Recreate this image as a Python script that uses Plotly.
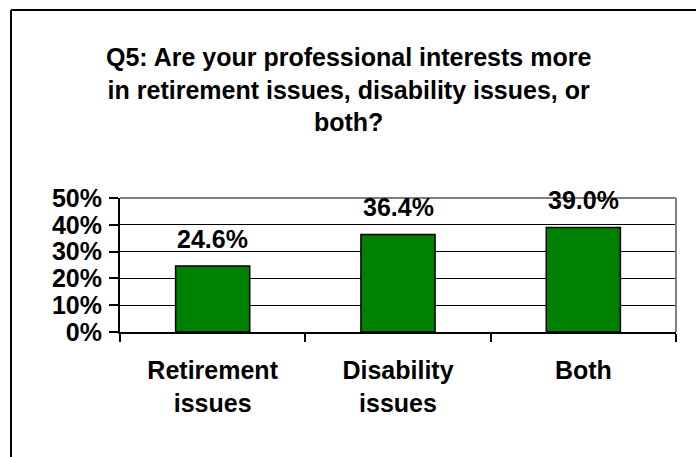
import plotly.graph_objects as go

# Survey responses for Q5
categories = ["Retirement<br>issues", "Disability<br>issues", "Both"]
shares = [0.246, 0.364, 0.390]
y_ticks = [0.0, 0.1, 0.2, 0.3, 0.4, 0.5]
y_tick_labels = ["0%", "10%", "20%", "30%", "40%", "50%"]
title_text = ("Q5: Are your professional interests more<br>"
              "in retirement issues, disability issues, or<br>both?")

FONT = "Liberation Sans, Arial, sans-serif"

# plotting-area geometry in pixels (used to place paper-referenced items)
L, R, T, B = 120, 20, 198, 125
W, H = 696, 457
PW, PH = W - L - R, H - T - B


def px_x(x):
    return (x - L) / PW


def px_y(y):
    return (H - B - y) / PH


fig = go.Figure(
    go.Bar(
        x=categories,
        y=shares,
        marker=dict(color="#008000", line=dict(color="black", width=1.5)),
        width=0.4,
        hoverinfo="skip",
    )
)

# value labels above each bar
for cat, val in zip(categories, shares):
    fig.add_annotation(
        x=cat, y=val, text=f"<b>{val * 100:.1f}%</b>",
        showarrow=False, yanchor="bottom", yshift=11,
        font=dict(family=FONT, size=25, color="black"),
    )

# chart title
fig.add_annotation(
    xref="paper", yref="paper", x=px_x(348), y=px_y(89),
    xanchor="center", yanchor="middle", align="center",
    text=f"<b>{title_text}</b>", showarrow=False,
    font=dict(family=FONT, size=25, color="black"),
)

fig.update_layout(
    width=W,
    height=H,
    margin=dict(l=L, r=R, t=T, b=B),
    paper_bgcolor="white",
    plot_bgcolor="white",
    showlegend=False,
    xaxis=dict(
        type="category",
        tickson="boundaries",
        tickvals=categories,
        ticktext=[f"<b>{c}</b>" for c in categories],
        ticks="outside", ticklen=8, tickwidth=2, tickcolor="black",
        showline=True, linecolor="black", linewidth=2,
        showgrid=False,
        tickfont=dict(family=FONT, size=25, color="black"),
        ticklabelstandoff=15,
    ),
    yaxis=dict(
        range=[0, 0.5],
        tickvals=y_ticks, ticktext=[f"<b>{t}</b>" for t in y_tick_labels],
        ticks="outside", ticklen=9, tickwidth=2, tickcolor="black",
        showline=True, linecolor="black", linewidth=2,
        showgrid=True, gridcolor="black", gridwidth=1,
        zeroline=False,
        tickfont=dict(family=FONT, size=25, color="black"),
        ticklabelstandoff=2,
    ),
    shapes=[
        # gray top and right edges of the plotting area
        dict(type="line", xref="paper", yref="paper", x0=0, x1=1, y0=1, y1=1,
             line=dict(color="#808080", width=2)),
        dict(type="line", xref="paper", yref="paper", x0=1, x1=1, y0=0, y1=1,
             line=dict(color="#808080", width=2)),
        # outer chart frame (top and left edges)
        dict(type="line", xref="paper", yref="paper",
             x0=px_x(11), x1=px_x(700), y0=px_y(10), y1=px_y(10),
             line=dict(color="black", width=2)),
        dict(type="line", xref="paper", yref="paper",
             x0=px_x(11), x1=px_x(11), y0=px_y(10), y1=px_y(470),
             line=dict(color="black", width=2)),
    ],
)

fig.write_html("out.html")
